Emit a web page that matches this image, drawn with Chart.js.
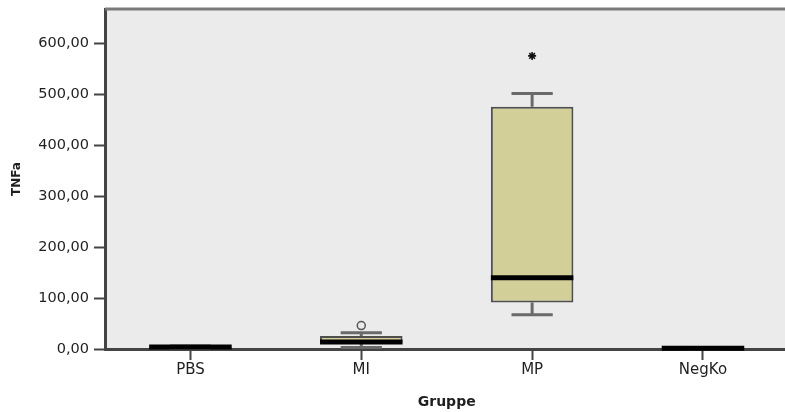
<!DOCTYPE html>
<html>
<head>
<meta charset="utf-8">
<script src="https://cdn.jsdelivr.net/npm/chart.js@4/dist/chart.umd.min.js"></script>
<style>
  html, body { margin: 0; padding: 0; background: #ffffff; overflow: hidden; }
  #wrap { width: 794px; height: 412px; }
</style>
</head>
<body>
<div id="wrap"><canvas id="c" width="794" height="412"></canvas></div>
<script>
// Groups and five-number summaries of TNFa per group
const categories   = ['PBS', 'MI', 'MP', 'NegKo'];
const lowerWhisker = [1.5, 3, 67, 0.5];
const q1           = [2.5, 11, 91, 1];
const median       = [4, 13.5, 140, 1.5];
const q3           = [5, 25.5, 475, 2];
const upperWhisker = [6, 32, 501, 2.5];
// Outliers (circle) and extreme values (asterisk)
const outliers     = [null, 46, null, null];
const extremes     = [null, null, 575, null];
// Value axis
const tickValues   = [0, 100, 200, 300, 400, 500, 600];
const yMax         = 667;

const fmt = v => v.toFixed(2).replace('.', ',');

const boxPlot = {
  id: 'boxPlot',
  beforeDraw(chart) {
    const { ctx, chartArea: a } = chart;
    ctx.save();
    ctx.fillStyle = '#ebebeb';
    ctx.fillRect(a.left, a.top, a.right - a.left, a.bottom - a.top);
    ctx.restore();
  },
  beforeDatasetsDraw(chart) {
    const { ctx, scales: { x, y } } = chart;
    const bars = chart.getDatasetMeta(0).data;
    ctx.save();
    ctx.strokeStyle = '#6a6a6a';
    ctx.lineWidth = 3;
    categories.forEach((c, i) => {
      const cx = x.getPixelForValue(i);
      const half = bars[i].width / 4;
      const yHi = y.getPixelForValue(upperWhisker[i]);
      const yLo = y.getPixelForValue(lowerWhisker[i]);
      const y3 = y.getPixelForValue(q3[i]);
      const y1 = y.getPixelForValue(q1[i]);
      ctx.beginPath();
      ctx.moveTo(cx, y3); ctx.lineTo(cx, yHi);
      ctx.moveTo(cx - half, yHi); ctx.lineTo(cx + half, yHi);
      ctx.moveTo(cx, y1); ctx.lineTo(cx, yLo);
      ctx.moveTo(cx - half, yLo); ctx.lineTo(cx + half, yLo);
      ctx.stroke();
    });
    ctx.restore();
  },
  afterDatasetsDraw(chart) {
    const { ctx, chartArea: a, scales: { x, y } } = chart;
    const bars = chart.getDatasetMeta(0).data;
    ctx.save();
    ctx.strokeStyle = '#000000';
    ctx.lineWidth = 5;
    categories.forEach((c, i) => {
      const cx = x.getPixelForValue(i);
      const half = bars[i].width / 2;
      const ym = y.getPixelForValue(median[i]);
      ctx.beginPath();
      ctx.moveTo(cx - half, ym);
      ctx.lineTo(cx + half, ym);
      ctx.stroke();
    });
    // frame line along the top of the plot area
    ctx.strokeStyle = '#7a7a7a';
    ctx.lineWidth = 3;
    ctx.beginPath();
    ctx.moveTo(a.left, a.top);
    ctx.lineTo(a.right, a.top);
    ctx.stroke();
    ctx.restore();
  }
};

new Chart(document.getElementById('c'), {
  data: {
    labels: categories,
    datasets: [
      {
        type: 'bar',
        data: categories.map((c, i) => [q1[i], q3[i]]),
        backgroundColor: '#d3cf98',
        borderColor: '#4f4f4f',
        borderWidth: 2,
        borderSkipped: false,
        categoryPercentage: 1,
        barPercentage: 0.483
      },
      {
        type: 'line',
        data: outliers,
        showLine: false,
        pointStyle: 'circle',
        pointRadius: 4,
        pointBackgroundColor: 'rgba(0,0,0,0)',
        pointBorderColor: '#555555',
        pointBorderWidth: 1.5
      },
      {
        type: 'line',
        data: extremes,
        showLine: false,
        pointStyle: 'star',
        pointRadius: 4,
        pointBorderColor: '#111111',
        pointBorderWidth: 1.6
      }
    ]
  },
  options: {
    responsive: false,
    animation: false,
    layout: { padding: { top: 9, right: 0, left: 0, bottom: 0 } },
    plugins: { legend: { display: false }, tooltip: { enabled: false } },
    scales: {
      x: {
        type: 'category',
        offset: true,
        grid: { display: true, offset: false, drawOnChartArea: false, drawTicks: true, tickLength: 11, tickWidth: 2, tickColor: '#444444' },
        border: { display: true, color: '#444444', width: 3 },
        ticks: { color: '#1f1f1f', padding: 1, font: { family: 'DejaVu Sans', size: 15 } },
        title: { display: true, text: 'Gruppe', color: '#1f1f1f', padding: { top: 0, bottom: 1 }, font: { family: 'DejaVu Sans', size: 14, weight: 'bold' } },
        afterFit(s) { s.height = 63; s.paddingLeft = 0; s.paddingRight = 0; }
      },
      y: {
        type: 'linear',
        min: 0,
        max: yMax,
        grid: { display: true, drawOnChartArea: false, drawTicks: true, tickLength: 11, tickWidth: 2, tickColor: '#444444' },
        border: { display: true, color: '#444444', width: 3 },
        afterBuildTicks(s) { s.ticks = tickValues.map(v => ({ value: v })); },
        ticks: { color: '#1f1f1f', padding: 5, font: { family: 'DejaVu Sans', size: 14.5 }, callback: v => fmt(v) },
        title: { display: true, text: 'TNFa', color: '#1f1f1f', padding: { top: 10, bottom: 0 }, font: { family: 'DejaVu Sans', size: 12, weight: 'bold' } },
        afterFit(s) { s.width = 105; s.paddingTop = 0; s.paddingBottom = 0; }
      }
    }
  },
  plugins: [boxPlot]
});
</script>
</body>
</html>
